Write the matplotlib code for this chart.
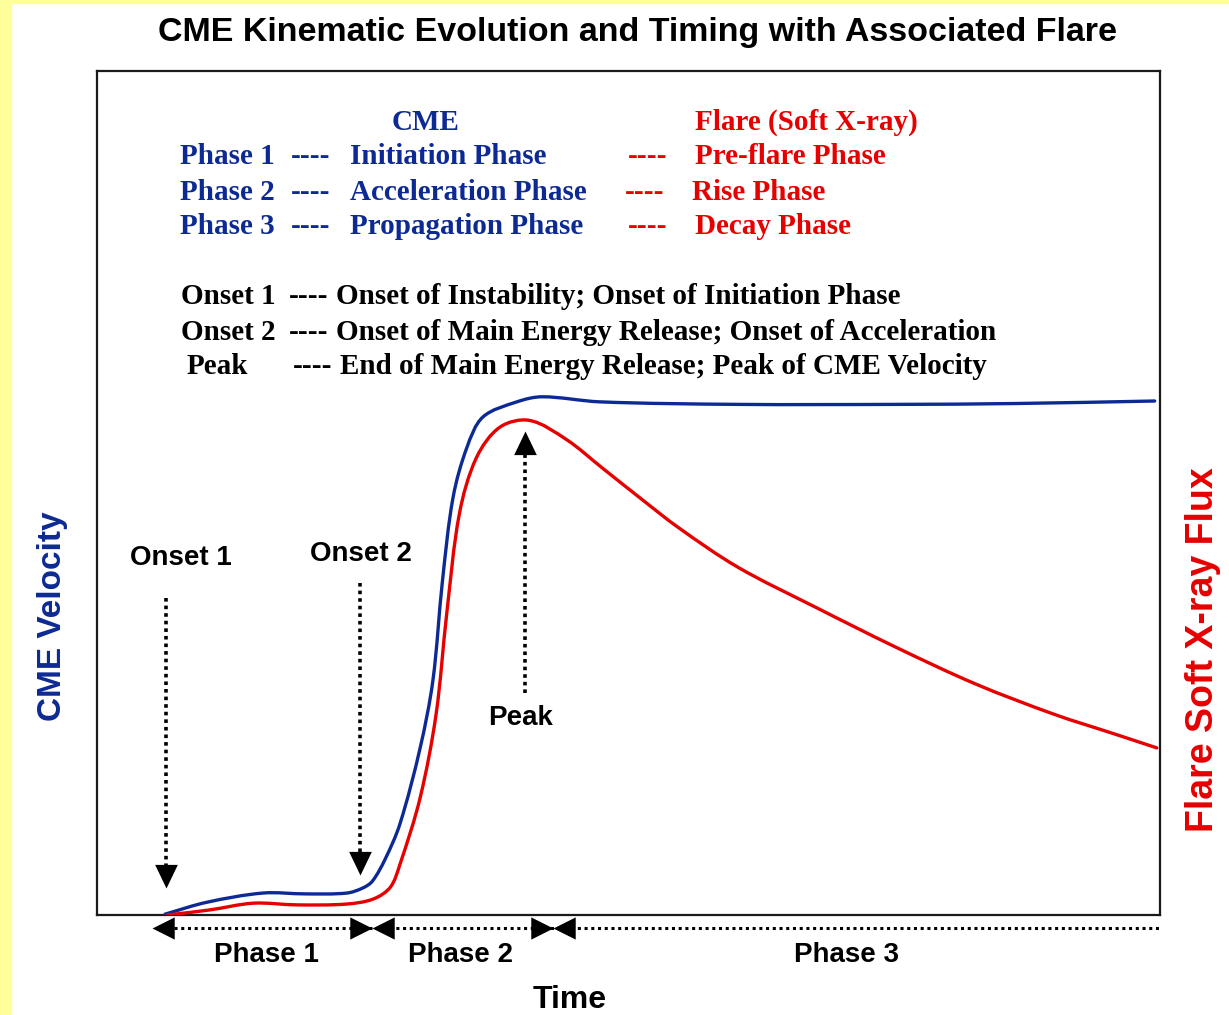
#!/usr/bin/env python3
"""CME kinematic evolution and timing with associated flare (schematic)."""

import matplotlib
matplotlib.use("Agg")
import matplotlib.pyplot as plt
from matplotlib.path import Path
from matplotlib.patches import Rectangle, PathPatch

W, H = 1229, 1015
NAVY = "#0d2a94"
RED = "#e60000"
YELLOW = "#ffff99"

# CME velocity (arbitrary units), time 0..100
time_cme = [6.4, 10.3, 15.6, 19.6, 23.5, 25.0, 25.9, 27.1, 28.5, 30.4, 31.6, 32.5,
            33.5, 34.8, 36.3, 39.5, 41.9, 47.3, 60.3, 75.2, 86.3, 99.5]
vel_cme = [0.1, 1.5, 2.6, 2.5, 2.6, 3.2, 4.0, 6.6, 10.8, 19.8, 27.8, 39.6,
           49.5, 55.4, 59.0, 60.8, 61.4, 60.8, 60.5, 60.5, 60.6, 60.9]

# flare soft X-ray flux (arbitrary units)
time_flare = [6.6, 10.6, 14.7, 18.8, 23.5, 26.0, 27.6, 28.5, 30.4, 31.9, 32.9, 34.1,
              35.7, 37.9, 40.7, 44.2, 47.5, 51.0, 54.7, 60.3, 67.7, 75.2, 82.6,
              90.0, 95.6, 99.7]
flux_flare = [0.0, 0.6, 1.4, 1.2, 1.3, 1.9, 3.3, 6.0, 13.9, 23.8, 35.7, 47.6,
              54.2, 57.8, 58.6, 56.3, 53.0, 49.5, 45.9, 41.2, 36.4, 31.7, 27.4,
              23.8, 21.5, 19.8]

# event markers: (label, time, arrow start, arrow tip)
onset_labels = ["Onset 1", "Onset 2", "Peak"]
onset_times = [6.5, 24.7, 40.3]
onset_from = [37.6, 39.3, 26.3]
onset_to = [3.2, 4.7, 57.3]

# phase boundaries along the time axis
phase_labels = ["Phase 1", "Phase 2", "Phase 3"]
phase_edges = [5.2, 25.9, 42.9, 100.0]

cme_phases = ["Initiation Phase", "Acceleration Phase", "Propagation Phase"]
flare_phases = ["Pre-flare Phase", "Rise Phase", "Decay Phase"]
onset_notes = ["Onset of Instability; Onset of Initiation Phase",
               "Onset of Main Energy Release; Onset of Acceleration",
               "End of Main Energy Release; Peak of CME Velocity"]


def fx(x):
    return x / W


def fy(y):
    return 1 - y / H


def smooth_path(xs, ys, sx=10.6, sy=8.4):
    """Smooth curve through the points (chord-length Hermite -> Bezier)."""
    pts = list(zip(xs, ys))
    n = len(pts)

    def dist(a, b):
        return (((b[0] - a[0]) * sx) ** 2 + ((b[1] - a[1]) * sy) ** 2) ** 0.5

    def tangent(i):
        a = pts[max(i - 1, 0)]
        b = pts[min(i + 1, n - 1)]
        d = dist(a, pts[i]) + dist(pts[i], b)
        return ((b[0] - a[0]) / d, (b[1] - a[1]) / d)

    verts = [pts[0]]
    codes = [Path.MOVETO]
    for i in range(n - 1):
        p1, p2 = pts[i], pts[i + 1]
        L = dist(p1, p2) / 3
        m1, m2 = tangent(i), tangent(i + 1)
        c1 = (p1[0] + m1[0] * L, p1[1] + m1[1] * L)
        c2 = (p2[0] - m2[0] * L, p2[1] - m2[1] * L)
        verts += [c1, c2, p2]
        codes += [Path.CURVE4] * 3
    return Path(verts, codes)


fig = plt.figure(figsize=(W / 100, H / 100), dpi=100)
fig.patch.set_facecolor("white")
fig.patches.append(Rectangle((0, 0), fx(11), 1, transform=fig.transFigure,
                             color=YELLOW, zorder=0))
fig.patches.append(Rectangle((0, fy(3)), 1, 1, transform=fig.transFigure,
                             color=YELLOW, zorder=0))

ax = fig.add_axes([fx(97), fy(915), fx(1160) - fx(97), fy(71) - fy(915)])
ax.set_xlim(0, 100)
ax.set_ylim(0, 100)
ax.set_xticks([])
ax.set_yticks([])
for s in ax.spines.values():
    s.set_linewidth(1.6)
    s.set_color("#1a1a1a")

ax.add_patch(PathPatch(smooth_path(time_cme, vel_cme), fill=False, edgecolor=NAVY,
                       lw=2.4, capstyle="round", joinstyle="round", zorder=3))
ax.add_patch(PathPatch(smooth_path(time_flare, flux_flare), fill=False, edgecolor=RED,
                       lw=2.4, capstyle="round", joinstyle="round", zorder=3))

# triangle markers with the tip at the data point
tri_down = Path([(0, 0), (-0.48, 1), (0.48, 1), (0, 0)])
tri_up = Path([(0, 0), (-0.48, -1), (0.48, -1), (0, 0)])
tri_left = Path([(0, 0), (1, 0.5), (1, -0.5), (0, 0)])
tri_right = Path([(0, 0), (-1, 0.5), (-1, -0.5), (0, 0)])

sans = "Liberation Sans"
for lab, t, y0, y1 in zip(onset_labels, onset_times, onset_from, onset_to):
    down = y1 < y0
    y_end = y1 + 2.6 if down else y1 - 2.6
    ax.plot([t, t], [y0, y_end], color="black", lw=2.6, ls=(0, (1, 1.1)), zorder=4)
    ax.plot([t], [y1], marker=tri_down if down else tri_up, ms=34, color="black",
            mew=0, zorder=5)

fig.text(fx(181), fy(558), onset_labels[0], family=sans, weight="bold", fontsize=20,
         ha="center", va="center")
fig.text(fx(361), fy(554), onset_labels[1], family=sans, weight="bold", fontsize=20,
         ha="center", va="center")
fig.text(fx(521), fy(718), onset_labels[2], family=sans, weight="bold", fontsize=20,
         ha="center", va="center")

# phase arrows below the axis
ya = -1.55
ax.plot([phase_edges[0] + 2, phase_edges[-1]], [ya, ya], color="black", lw=2.2,
        ls=(0, (1, 1.2)), clip_on=False, zorder=4)
for i in range(3):
    ax.plot([phase_edges[i]], [ya], marker=tri_left, ms=32, color="black", mew=0,
            clip_on=False, zorder=5)
    if i < 2:
        ax.plot([phase_edges[i + 1]], [ya], marker=tri_right, ms=32, color="black",
                mew=0, clip_on=False, zorder=5)
phase_x = [266, 460, 847]
for lab, x in zip(phase_labels, phase_x):
    fig.text(fx(x), fy(955), lab, family=sans, weight="bold", fontsize=20,
             ha="center", va="center")

fig.text(fx(570), fy(1000), "Time", family=sans, weight="bold", fontsize=23,
         ha="center", va="center")
fig.text(fx(637), fy(33), "CME Kinematic Evolution and Timing with Associated Flare",
         family=sans, weight="bold", fontsize=24.5, ha="center", va="center")
fig.text(fx(53), fy(616), "CME Velocity", family=sans, weight="bold", fontsize=24,
         color=NAVY, rotation=90, ha="center", va="center")
fig.text(fx(1203), fy(650), "Flare Soft X-ray Flux", family=sans, weight="bold",
         fontsize=27, color=RED, rotation=90, ha="center", va="center")

# explanatory key
serif = "Liberation Serif"
kw = dict(family=serif, weight="bold", fontsize=21, va="center")
fig.text(fx(426), fy(122), "CME", color=NAVY, ha="center", **kw)
fig.text(fx(695), fy(122), "Flare (Soft X-ray)", color=RED, ha="left", **kw)
rows_y = [157, 192, 227]
flare_x = [695, 692, 695]
flare_dash_x = [628, 625, 628]
for i in range(3):
    y = rows_y[i]
    fig.text(fx(180), fy(y), phase_labels[i], color=NAVY, ha="left", **kw)
    fig.text(fx(291), fy(y), "----", color=NAVY, ha="left", **kw)
    fig.text(fx(350), fy(y), cme_phases[i], color=NAVY, ha="left", **kw)
    fig.text(fx(flare_dash_x[i]), fy(y), "----", color=RED, ha="left", **kw)
    fig.text(fx(flare_x[i]), fy(y), flare_phases[i], color=RED, ha="left", **kw)

note_y = [296, 332, 367]
note_lab_x = [181, 181, 187]
note_dash_x = [289, 289, 293]
note_txt_x = [336, 336, 340]
for i in range(3):
    y = note_y[i]
    fig.text(fx(note_lab_x[i]), fy(y), onset_labels[i], color="black", ha="left", **kw)
    fig.text(fx(note_dash_x[i]), fy(y), "----", color="black", ha="left", **kw)
    fig.text(fx(note_txt_x[i]), fy(y), onset_notes[i], color="black", ha="left", **kw)

fig.savefig("out.png", dpi=100)
